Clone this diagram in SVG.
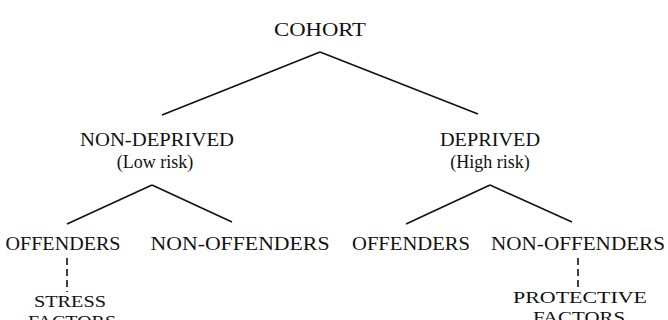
<svg xmlns="http://www.w3.org/2000/svg" width="668" height="320" viewBox="0 0 668 320">
<style>
.t{font-family:"Liberation Serif","DejaVu Serif",serif;font-size:19px;fill:#111;text-anchor:middle}
.s{font-size:18px}
.f{font-size:17px}
.c line{stroke:#111;stroke-width:1.6;fill:none}
.d{stroke-dasharray:7,4}
</style>
<rect width="668" height="320" fill="#fff"/>
<g class="c" id="connectors">
<line x1="320" y1="52" x2="162" y2="115"/>
<line x1="320" y1="52" x2="478" y2="114"/>
<line x1="152" y1="185" x2="67" y2="224"/>
<line x1="152" y1="185" x2="232" y2="222"/>
<line x1="490" y1="185" x2="406" y2="224"/>
<line x1="490" y1="185" x2="572" y2="222"/>
<line class="d" x1="67" y1="258" x2="67" y2="292"/>
<line class="d" x1="578" y1="258" x2="578" y2="288"/>
</g>
<g id="cohort"><text class="t" x="320" y="36" textLength="92" lengthAdjust="spacingAndGlyphs">COHORT</text></g>
<g id="nondeprived"><text class="t" x="157" y="146" textLength="154" lengthAdjust="spacingAndGlyphs">NON-DEPRIVED</text><text class="t s" x="155" y="168">(Low risk)</text></g>
<g id="deprived"><text class="t" x="490" y="146" textLength="100" lengthAdjust="spacingAndGlyphs">DEPRIVED</text><text class="t s" x="490" y="168">(High risk)</text></g>
<g id="offenders1"><text class="t" x="63" y="250" textLength="115" lengthAdjust="spacingAndGlyphs">OFFENDERS</text></g>
<g id="nonoffenders1"><text class="t" x="240" y="250" textLength="179" lengthAdjust="spacingAndGlyphs">NON-OFFENDERS</text></g>
<g id="offenders2"><text class="t" x="411" y="250" textLength="118" lengthAdjust="spacingAndGlyphs">OFFENDERS</text></g>
<g id="nonoffenders2"><text class="t" x="578" y="250" textLength="174" lengthAdjust="spacingAndGlyphs">NON-OFFENDERS</text></g>
<g id="stress"><text class="t f" x="70" y="307" textLength="72" lengthAdjust="spacingAndGlyphs">STRESS</text><text class="t f" x="72" y="327" textLength="88" lengthAdjust="spacingAndGlyphs">FACTORS</text></g>
<g id="protective"><text class="t f" x="580" y="303" textLength="134" lengthAdjust="spacingAndGlyphs">PROTECTIVE</text><text class="t f" x="579" y="323" textLength="92" lengthAdjust="spacingAndGlyphs">FACTORS</text></g>
</svg>
